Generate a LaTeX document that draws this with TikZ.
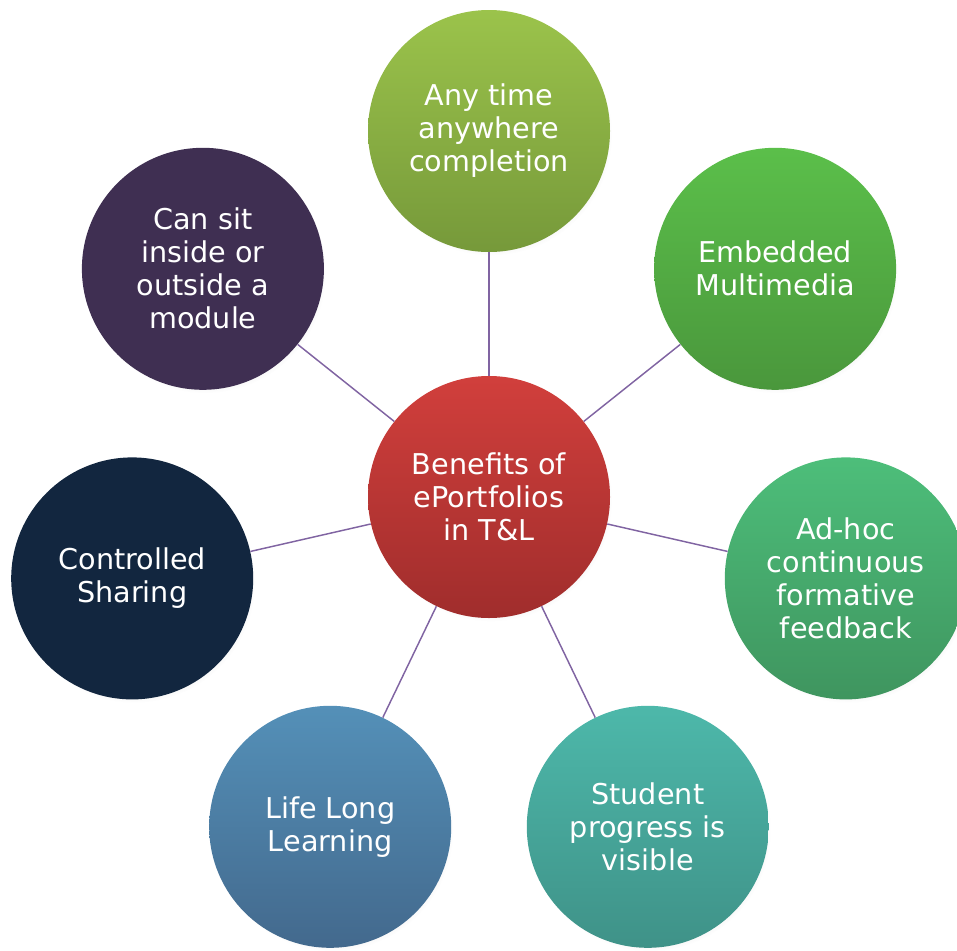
\documentclass[tikz,border=0pt]{standalone}
\usepackage{fontspec}
\setmainfont{DejaVu Sans}
\usetikzlibrary{shadows}
\definecolor{linkc}{HTML}{8064A2}
\definecolor{gTop}{HTML}{9BC34B}\definecolor{gBot}{HTML}{76993A}
\definecolor{eTop}{HTML}{5BBF4A}\definecolor{eBot}{HTML}{4A973C}
\definecolor{aTop}{HTML}{4DBE7A}\definecolor{aBot}{HTML}{3F955F}
\definecolor{sTop}{HTML}{4DB8AA}\definecolor{sBot}{HTML}{3F9288}
\definecolor{lTop}{HTML}{5490B8}\definecolor{lBot}{HTML}{43698D}
\definecolor{ctrl}{HTML}{12263F}
\definecolor{csit}{HTML}{3F2F52}
\definecolor{rTop}{HTML}{D13F3C}\definecolor{rBot}{HTML}{A02D2C}
\tikzset{
  bubble/.style={circle, minimum size=181.5pt, inner sep=0pt, align=center,
    text=white, font=\fontsize{21.5}{24.75}\selectfont,
    circular drop shadow={opacity=0.18, shadow xshift=1.5pt, shadow yshift=-2.5pt, shadow scale=1.0}},
  link/.style={draw=linkc, line width=1.1pt}
}
\begin{document}
\begin{tikzpicture}[x=0.75pt, y=-0.75pt]
\useasboundingbox (0,0) rectangle (957,950);
\node[bubble, top color=rTop, bottom color=rBot] (c) at (489,497) {Benefits of\\ePortfolios\\in T\&L};
\node[bubble, top color=gTop, bottom color=gBot] (n1) at (489,131) {Any time\\anywhere\\completion};
\node[bubble, top color=eTop, bottom color=eBot] (n2) at (775.1,268.8) {Embedded\\Multimedia};
\node[bubble, top color=aTop, bottom color=aBot] (n3) at (845.8,578.4) {Ad-hoc\\continuous\\formative\\feedback};
\node[bubble, top color=sTop, bottom color=sBot] (n4) at (647.8,826.8) {Student\\progress is\\visible};
\node[bubble, top color=lTop, bottom color=lBot] (n5) at (330.2,826.8) {Life Long\\Learning};
\node[bubble, fill=ctrl] (n6) at (132.2,578.4) {Controlled\\Sharing};
\node[bubble, fill=csit] (n7) at (202.9,268.8) {Can sit\\inside or\\outside a\\module};
\foreach \n in {n1,n2,n3,n4,n5,n6,n7} \draw[link] (c) -- (\n);
\end{tikzpicture}
\end{document}
